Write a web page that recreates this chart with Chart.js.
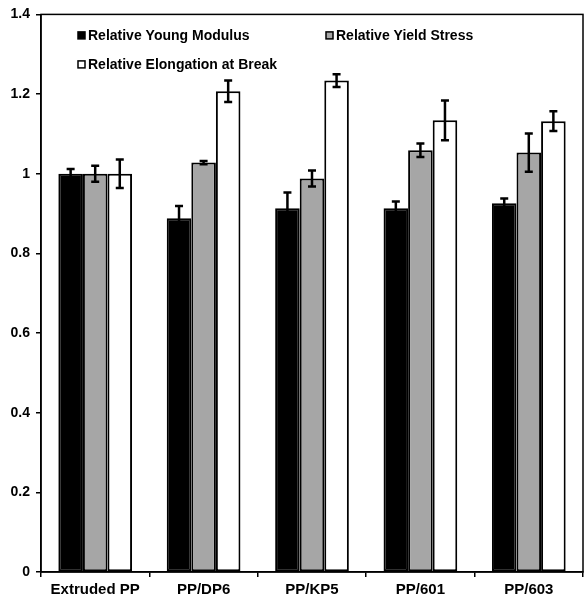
<!DOCTYPE html>
<html>
<head>
<meta charset="utf-8">
<script src="https://cdn.jsdelivr.net/npm/chart.js@4/dist/chart.umd.min.js"></script>
<style>
  html, body { margin: 0; padding: 0; background: #fff; }
  #wrap { width: 585px; height: 603px; position: relative; }
</style>
</head>
<body>
<div id="wrap"><canvas id="c"></canvas></div>
<script>
// Relative mechanical properties of the PP samples (extruded PP = 1)
const categories = ['Extruded PP', 'PP/DP6', 'PP/KP5', 'PP/601', 'PP/603'];
const youngModulus     = [1.00, 0.888, 0.913, 0.913, 0.926];
const youngModulusErr  = [0.012, 0.031, 0.040, 0.017, 0.012];
const yieldStress      = [1.00, 1.028, 0.988, 1.059, 1.053];
const yieldStressErr   = [0.020, 0.004, 0.020, 0.017, 0.048];
const elongation       = [1.00, 1.207, 1.234, 1.134, 1.132];
const elongationErr    = [0.036, 0.027, 0.016, 0.050, 0.025];
const yTicks = [0, 0.2, 0.4, 0.6, 0.8, 1, 1.2, 1.4];

const FONT = "'Liberation Sans', Arial, sans-serif";

// Symmetric error bars drawn on top of every bar
const errorBars = {
  id: 'errorBars',
  afterDatasetsDraw(chart) {
    const ctx = chart.ctx, y = chart.scales.y;
    chart.data.datasets.forEach((ds, di) => {
      const meta = chart.getDatasetMeta(di);
      meta.data.forEach((bar, i) => {
        const v = ds.data[i], e = ds.errors[i];
        const top = y.getPixelForValue(v + e), bot = y.getPixelForValue(v - e);
        const x = bar.x, cap = 4;
        ctx.save();
        ctx.strokeStyle = '#000';
        ctx.lineWidth = 2.5;
        ctx.beginPath();
        ctx.moveTo(x, top); ctx.lineTo(x, bot);
        ctx.moveTo(x - cap, top); ctx.lineTo(x + cap, top);
        ctx.moveTo(x - cap, bot); ctx.lineTo(x + cap, bot);
        ctx.stroke();
        ctx.restore();
      });
    });
  }
};

// Closed frame around the plot area and the in-plot legend
const frameAndLegend = {
  id: 'frameAndLegend',
  afterDraw(chart) {
    const ctx = chart.ctx, a = chart.chartArea;
    ctx.save();
    ctx.strokeStyle = '#000';
    ctx.lineWidth = 1.5;
    ctx.strokeRect(a.left, a.top, a.right - a.left, a.bottom - a.top);

    const spots = [
      { x: a.left + 37, y: a.top + 21 },
      { x: a.left + 285, y: a.top + 21 },
      { x: a.left + 37, y: a.top + 50 }
    ];
    ctx.font = 'bold 14px ' + FONT;
    ctx.textBaseline = 'middle';
    ctx.textAlign = 'left';
    chart.data.datasets.forEach((ds, i) => {
      const s = spots[i];
      ctx.fillStyle = ds.backgroundColor;
      ctx.fillRect(s.x, s.y - 3.5, 7, 7);
      ctx.lineWidth = 1.5;
      ctx.strokeStyle = '#000';
      ctx.strokeRect(s.x, s.y - 3.5, 7, 7);
      ctx.fillStyle = '#000';
      ctx.fillText(ds.label, s.x + 10, s.y + 1);
    });
    ctx.restore();
  }
};

const barStyle = { borderColor: '#000', borderWidth: 2, borderSkipped: false,
                   categoryPercentage: 0.68, barPercentage: 1.0 };

new Chart(document.getElementById('c'), {
  type: 'bar',
  data: {
    labels: categories,
    datasets: [
      Object.assign({ label: 'Relative Young Modulus', data: youngModulus, errors: youngModulusErr,
                      backgroundColor: '#000000' }, barStyle),
      Object.assign({ label: 'Relative Yield Stress', data: yieldStress, errors: yieldStressErr,
                      backgroundColor: '#a6a6a6' }, barStyle),
      Object.assign({ label: 'Relative Elongation at Break', data: elongation, errors: elongationErr,
                      backgroundColor: '#ffffff' }, barStyle)
    ]
  },
  options: {
    responsive: true,
    maintainAspectRatio: false,
    animation: false,
    layout: { padding: { top: 12, right: 2, left: 0, bottom: 0 } },
    plugins: { legend: { display: false }, tooltip: { enabled: false } },
    scales: {
      x: {
        grid: { display: true, drawOnChartArea: false, drawTicks: true, tickLength: 5,
                color: '#000', lineWidth: 1.5 },
        border: { display: true, color: '#000', width: 1.5 },
        ticks: { color: '#000', padding: 4, maxRotation: 0,
                 font: { family: FONT, size: 15, weight: 'bold' } },
        afterFit(s) { s.height = 31; }
      },
      y: {
        min: 0, max: 1.4,
        afterBuildTicks(s) { s.ticks = yTicks.map(v => ({ value: v })); },
        grid: { display: true, drawOnChartArea: false, drawTicks: true, tickLength: 5,
                color: '#000', lineWidth: 1.5 },
        border: { display: true, color: '#000', width: 1.5 },
        ticks: { color: '#000', padding: 6,
                 font: { family: FONT, size: 14, weight: 'bold' },
                 callback: v => String(+Number(v).toFixed(1)) },
        afterFit(s) { s.width = 41; }
      }
    }
  },
  plugins: [errorBars, frameAndLegend]
});
</script>
</body>
</html>
